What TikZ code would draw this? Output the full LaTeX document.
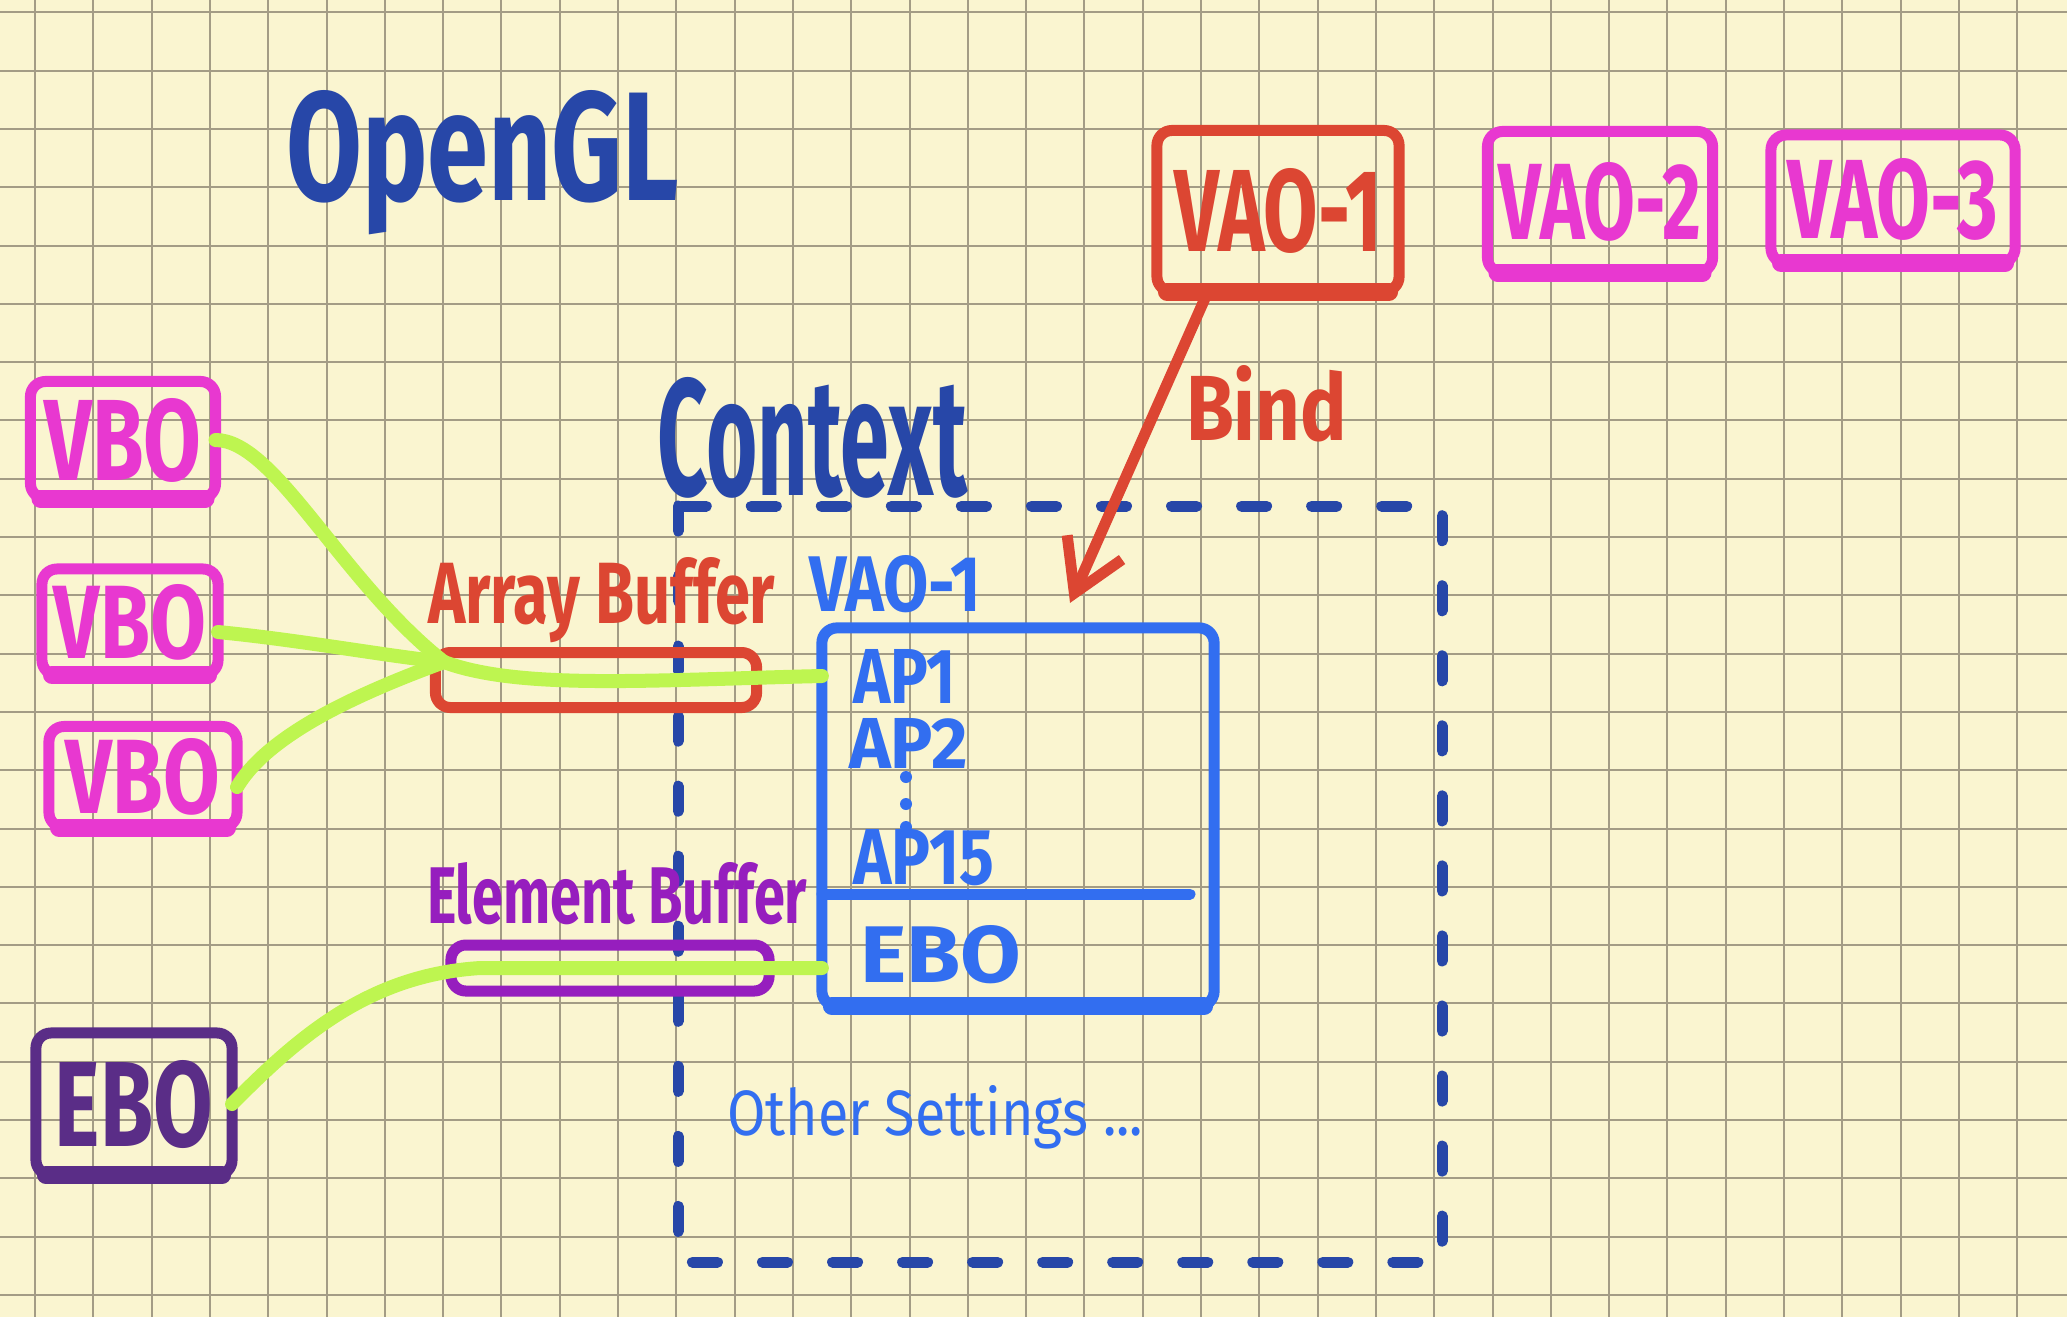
\documentclass[tikz,border=0pt]{standalone}
\usepackage{fontspec}
\setmainfont{Fira Sans}
\usepackage{graphicx}
\usetikzlibrary{arrows.meta}
\definecolor{paper}{HTML}{FAF5D0}
\definecolor{gridgray}{HTML}{A39C85}
\definecolor{inkblue}{HTML}{2747A8}
\definecolor{skyblue}{HTML}{326EF0}
\definecolor{inkred}{HTML}{DC4632}
\definecolor{inkpink}{HTML}{E838D0}
\definecolor{inklime}{HTML}{BEF550}
\definecolor{inkviolet}{HTML}{961EBE}
\definecolor{inkplum}{HTML}{5A2D87}
\newcommand{\fitword}[3]{\resizebox{#1}{#2}{\bfseries #3}}
\tikzset{
    every node/.style={inner sep=0pt, outer sep=0pt},
    word/.style={anchor=base west},
    box/.style={draw, line width=1.1mm, rounded corners=1.5mm},
    link/.style={inklime, line width=1.4mm, line cap=round},
    gridline/.style={gridgray, line width=0.2mm}
}

\begin{document}
\begin{tikzpicture}[x=0.01cm, y=-0.01cm]
  \useasboundingbox (0,0) rectangle (2067,1317);
  \fill[paper] (0,0) rectangle (2067,1317);
  \foreach \k in {0,...,34}
    \draw[gridline] ({35+58.3*\k},0) -- ({35+58.3*\k},1317);
  \foreach \k in {0,...,22}
    \draw[gridline] (0,{12.3+58.3*\k}) -- (2067,{12.3+58.3*\k});

  \node (opengl) [word, inkblue] at (286,200) {\fitword{3.93cm}{1.1cm}{OpenGL}};
  \node (context) [word, inkblue] at (657,495) {\fitword{3.1cm}{1.18cm}{Context}};
  \draw[inkblue, line width=1.1mm, line cap=round, dash pattern=on 2.5mm off 4.5mm]
    (678,506) rectangle (1442,1262);

  \node (vao1) [box, inkred, minimum width=2.42cm, minimum height=1.61cm] at (1278,211) {\fitword{2.07cm}{0.83cm}{VAO-1}};
  \node (vao2) [box, inkpink, minimum width=2.25cm, minimum height=1.41cm] at (1600,202) {\fitword{2.03cm}{0.77cm}{VAO-2}};
  \node (vao3) [box, inkpink, minimum width=2.44cm, minimum height=1.28cm] at (1893,199) {\fitword{2.1cm}{0.8cm}{VAO-3}};

  \node (vbo1) [box, inkpink, minimum width=1.85cm, minimum height=1.17cm] at (123,440) {\fitword{1.57cm}{0.82cm}{VBO}};
  \node (vbo2) [box, inkpink, minimum width=1.76cm, minimum height=1.06cm] at (130,622) {\fitword{1.52cm}{0.74cm}{VBO}};
  \node (vbo3) [box, inkpink, minimum width=1.88cm, minimum height=1.01cm] at (143,777) {\fitword{1.54cm}{0.75cm}{VBO}};
  \node (ebo) [box, inkplum, minimum width=1.96cm, minimum height=1.42cm] at (134,1104) {\fitword{1.58cm}{0.86cm}{EBO}};

  \node (abuflabel) [word, inkred] at (428,623) {\fitword{3.47cm}{0.66cm}{Array Buffer}};
  \node (abuf) [box, inkred, minimum width=3.21cm, minimum height=0.55cm] at (596,680) {};
  \node (ebuflabel) [word, inkviolet] at (427,923) {\fitword{3.8cm}{0.61cm}{Element Buffer}};
  \node (ebuf) [box, inkviolet, minimum width=3.18cm, minimum height=0.46cm] at (610,968) {};

  \node (vaolabel) [word, skyblue] at (809,611) {\fitword{1.72cm}{0.56cm}{VAO-1}};
  \node (vaobox) [box, skyblue, minimum width=3.92cm, minimum height=3.78cm] at (1018,817) {};
  \draw[skyblue, line width=1.1mm, line cap=round] (822,894) -- (1190,894);
  \node (ap1) [word, skyblue] at (853,703) {\fitword{1.03cm}{0.54cm}{AP1}};
  \node (ap2) [word, skyblue] at (849,768) {\fitword{1.19cm}{0.5cm}{AP2}};
  \node (ap15) [word, skyblue] at (853,884) {\fitword{1.41cm}{0.55cm}{AP15}};
  \foreach \y in {777,804,827}
    \fill[skyblue] (906,\y) circle (0.06cm);
  \node (eboslot) [word, skyblue] at (860,982) {\fitword{1.61cm}{0.57cm}{EBO}};
  \node (other) [word, skyblue] at (727,1135) {\fitword{4.16cm}{0.5cm}{\mdseries Other Settings ...}};

  % heavier pen strokes along the bottoms
  \foreach \b/\c in {vao1/inkred, vao2/inkpink, vao3/inkpink, vbo1/inkpink,
      vbo2/inkpink, vbo3/inkpink, ebo/inkplum, vaobox/skyblue}
    \draw[\c, line width=1.8mm, line cap=round]
      ([xshift=1mm]\b.south west) -- ([xshift=-1mm]\b.south east);

  % bind arrow
  \node (bind) [word, inkred] at (1186,440) {\fitword{1.61cm}{0.75cm}{Bind}};
  \draw[inkred, line width=1.1mm, line cap=round, -{Straight Barb[length=5mm, width=6mm]}]
    (vao1.-131) -- ([xshift=2.48cm, yshift=0.25cm]vaobox.north west);

  % buffers
  \coordinate (join) at (444,662);
  \draw[link] (vbo1.east) .. controls (275,440) and (340,580) .. (join);
  \draw[link] ([yshift=-1mm]vbo2.east) .. controls (300,640) and (380,655) .. (join);
  \draw[link] ([yshift=-1mm]vbo3.east) .. controls (265,740) and (340,700) .. (join);
  \draw[link] (join) .. controls (520,690) and (650,680) .. (vaobox.west |- ap1.center);
  \draw[link] (ebo.east) .. controls (300,1035) and (370,975) .. (480,968) -- (vaobox.west |- ebuf);
\end{tikzpicture}
\end{document}
